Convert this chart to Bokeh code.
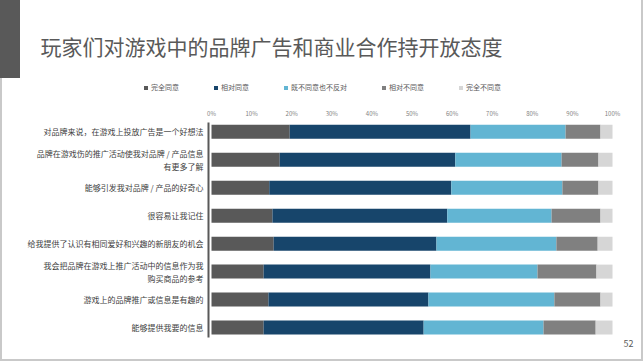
from bokeh.plotting import figure
from bokeh.models import (Range1d, FixedTicker, Label, Legend, LegendItem,
                          ColumnDataSource)
from bokeh.embed import file_html
from bokeh.resources import INLINE

title_text = "玩家们对游戏中的品牌广告和商业合作持开放态度"
categories = [
    "对品牌来说，在游戏上投放广告是一个好想法",
    "品牌在游戏伤的推广活动使我对品牌 / 产品信息\n有更多了解",
    "能够引发我对品牌 / 产品的好奇心",
    "很容易让我记住",
    "给我提供了认识有相同爱好和兴趣的新朋友的机会",
    "我会把品牌在游戏上推广活动中的信息作为我\n购买商品的参考",
    "游戏上的品牌推广或信息是有趣的",
    "能够提供我要的信息",
]
series_names = ["完全同意", "相对同意", "既不同意也不反对", "相对不同意", "完全不同意"]
strongly_agree = [19.5, 17.0, 14.4, 15.2, 15.5, 13.0, 14.2, 13.0]
agree = [45.1, 43.8, 45.4, 43.6, 40.6, 41.6, 39.9, 39.9]
neutral = [23.7, 26.5, 27.7, 26.0, 29.9, 26.7, 31.4, 29.9]
disagree = [8.7, 9.2, 9.0, 12.2, 10.3, 14.7, 11.5, 13.0]
strongly_disagree = [3.0, 3.5, 3.5, 3.0, 3.7, 4.0, 3.0, 4.2]
x_ticks = [0, 10, 20, 30, 40, 50, 60, 70, 80, 90, 100]
x_tick_labels = ["0%", "10%", "20%", "30%", "40%", "50%", "60%", "70%", "80%", "90%", "100%"]
page_number = "52"

colors = ["#595959", "#17456B", "#62B5D3", "#808080", "#D6D6D6"]
FONT = "Noto Sans CJK SC"

positions = [i + 1 for i in range(len(categories))]
keys = ["s1", "s2", "s3", "s4", "s5"]
src = ColumnDataSource(dict(y=positions, s1=strongly_agree, s2=agree, s3=neutral,
                            s4=disagree, s5=strongly_disagree))

# frame covers the whole canvas; ranges chosen so the bar area sits like the slide
p = figure(width=643, height=361, output_backend="svg", toolbar_location=None,
           x_range=Range1d(-52.62, 107.73), y_range=Range1d(9.215, -3.696),
           x_axis_location="above",
           min_border=0, min_border_left=0, min_border_right=0,
           min_border_top=0, min_border_bottom=0)
p.outline_line_color = None
p.grid.visible = False
p.background_fill_color = None
p.border_fill_color = None
p.styles = {
    "background": (
        "linear-gradient(#595959,#595959) 0 0 / 20px 78px no-repeat, "
        "linear-gradient(#c9c9c9,#c9c9c9) 0 0 / 2px 100% no-repeat, "
        "linear-gradient(#c9c9c9,#c9c9c9) 0 100% / 100% 2px no-repeat, "
        "linear-gradient(#c9c9c9,#c9c9c9) 100% 0 / 2px 100% no-repeat, "
        "#ffffff"
    )
}

renderers = p.hbar_stack(keys, y="y", height=0.5, color=colors, source=src,
                         line_color=None)

# x axis (top), pinned just above the bars
xa = p.xaxis[0]
xa.fixed_location = 0.667
xa.bounds = (0, 100)
xa.ticker = FixedTicker(ticks=x_ticks)
xa.major_label_overrides = {t: l for t, l in zip(x_ticks, x_tick_labels)}
xa.axis_line_color = None
xa.major_tick_line_color = None
xa.minor_tick_line_color = None
xa.major_tick_out = 0
xa.major_tick_in = 0
xa.major_label_standoff = 4
xa.major_label_text_font_size = "6px"
xa.major_label_text_color = "#7f7f7f"
xa.major_label_text_font = FONT

# y axis (left), pinned just left of the 0% line
ya = p.yaxis[0]
ya.fixed_location = -0.75
ya.bounds = (0.667, 8.357)
ya.ticker = FixedTicker(ticks=positions)
ya.major_label_overrides = {pos: c for pos, c in zip(positions, categories)}
ya.axis_line_color = "#595959"
ya.axis_line_width = 2
ya.major_tick_line_color = None
ya.minor_tick_line_color = None
ya.major_tick_out = 0
ya.major_tick_in = 0
ya.major_label_standoff = 5
ya.major_label_text_font_size = "8px"
ya.major_label_text_color = "#404040"
ya.major_label_text_font = FONT

# legend
legend = Legend(items=[LegendItem(label=n, renderers=[r]) for n, r in zip(series_names, renderers)],
                location=(143, 269), orientation="horizontal", glyph_width=5, glyph_height=5,
                label_standoff=3, padding=0, margin=0, spacing=34,
                border_line_color=None, background_fill_alpha=0,
                label_text_font_size="7px", label_height=7,
                label_text_color="#595959", label_text_font=FONT)
p.add_layout(legend, "center")

# slide title
p.add_layout(Label(x=40, y=316, x_units="screen", y_units="screen", text=title_text,
                   text_font_size="21px", text_color="#595959", text_font=FONT,
                   text_baseline="middle"))

# page number
p.add_layout(Label(x=628, y=18, x_units="screen", y_units="screen", text=page_number,
                   text_font_size="9px", text_color="#595959", text_font=FONT,
                   text_align="center", text_baseline="middle"))

open("out.html", "w").write(file_html(p, INLINE))
